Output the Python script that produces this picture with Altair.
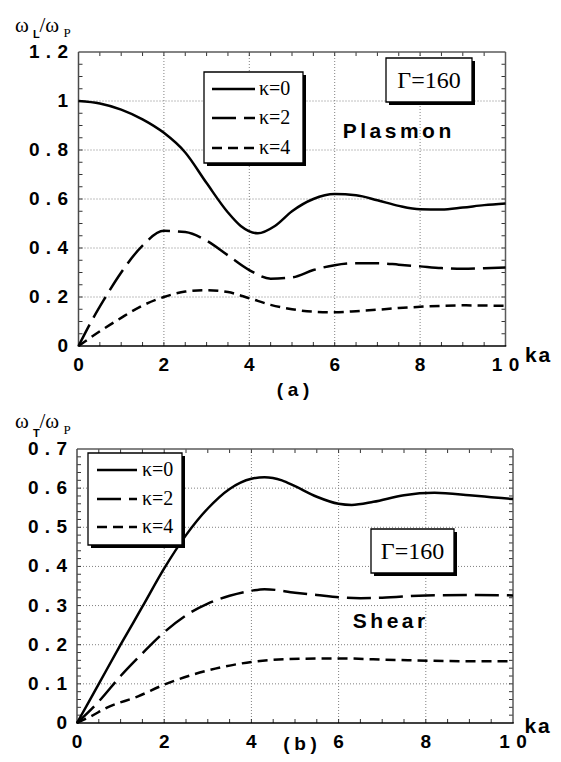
import altair as alt
import pandas as pd

# ---------------- data ----------------
# (a) Plasmon  omega_L / omega_P  vs ka
ka_a0 = [0, 0.5, 1, 1.5, 2, 2.5, 3, 3.5, 3.8, 4.2, 4.6, 5, 5.5, 6, 6.5, 7, 7.5, 8, 8.5, 9, 9.5, 10]
w_a0 = [1.0, 0.99, 0.965, 0.925, 0.87, 0.79, 0.665, 0.545, 0.49, 0.46, 0.49, 0.55, 0.60, 0.62, 0.615, 0.595, 0.572, 0.558, 0.557, 0.565, 0.575, 0.582]
ka_a2 = [0, 0.3, 0.6, 1, 1.5, 2, 2.5, 3, 3.5, 4, 4.5, 5, 5.5, 6, 6.5, 7, 7.5, 8, 8.5, 9, 9.5, 10]
w_a2 = [0, 0.10, 0.19, 0.30, 0.41, 0.47, 0.465, 0.43, 0.37, 0.31, 0.275, 0.28, 0.31, 0.33, 0.338, 0.338, 0.332, 0.325, 0.318, 0.315, 0.317, 0.32]
ka_a4 = [0, 0.5, 1, 1.5, 2, 2.5, 3, 3.5, 4, 4.5, 5, 5.5, 6, 6.5, 7, 7.5, 8, 8.5, 9, 9.5, 10]
w_a4 = [0, 0.06, 0.115, 0.165, 0.20, 0.222, 0.228, 0.22, 0.195, 0.168, 0.15, 0.14, 0.138, 0.142, 0.148, 0.155, 0.16, 0.164, 0.166, 0.165, 0.164]

# (b) Shear  omega_T / omega_P  vs ka
ka_b0 = [0, 0.5, 1, 1.5, 2, 2.5, 3, 3.5, 4, 4.3, 4.7, 5, 5.5, 6, 6.3, 6.8, 7.5, 8.2, 9, 9.5, 10]
w_b0 = [0, 0.10, 0.20, 0.297, 0.395, 0.48, 0.548, 0.598, 0.624, 0.628, 0.62, 0.605, 0.578, 0.56, 0.557, 0.565, 0.582, 0.588, 0.582, 0.577, 0.572]
ka_b2 = [0, 0.5, 1, 1.5, 2, 2.5, 3, 3.5, 4, 4.3, 5, 5.5, 6, 6.5, 7, 8, 9, 10]
w_b2 = [0, 0.055, 0.12, 0.178, 0.232, 0.275, 0.305, 0.325, 0.338, 0.342, 0.333, 0.327, 0.321, 0.319, 0.32, 0.326, 0.327, 0.326]
ka_b4 = [0, 0.3, 0.7, 1.4, 2, 2.7, 3.3, 4, 4.8, 6, 7.3, 8.9, 10]
w_b4 = [0, 0.016, 0.04, 0.068, 0.098, 0.125, 0.142, 0.156, 0.163, 0.165, 0.161, 0.158, 0.158]

series_labels = ["κ=0", "κ=2", "κ=4"]

# axis ticks and tick labels
x_major = [0, 2, 4, 6, 8, 10]
x_labels = ["0", "2", "4", "6", "8", "10"]
x_minor = [0.5, 1, 1.5, 2, 2.5, 3, 3.5, 4, 4.5, 5, 5.5, 6, 6.5, 7, 7.5, 8, 8.5, 9, 9.5]
ya_major = [0, 0.2, 0.4, 0.6, 0.8, 1.0, 1.2]
ya_labels = ["0", "0.2", "0.4", "0.6", "0.8", "1", "1.2"]
ya_minor = [0.05, 0.1, 0.15, 0.2, 0.25, 0.3, 0.35, 0.4, 0.45, 0.5, 0.55, 0.6, 0.65, 0.7,
            0.75, 0.8, 0.85, 0.9, 0.95, 1.0, 1.05, 1.1, 1.15]
yb_major = [0, 0.1, 0.2, 0.3, 0.4, 0.5, 0.6, 0.7]
yb_labels = ["0", "0.1", "0.2", "0.3", "0.4", "0.5", "0.6", "0.7"]
yb_minor = [0.02, 0.04, 0.06, 0.08, 0.1, 0.12, 0.14, 0.16, 0.18, 0.2, 0.22, 0.24, 0.26, 0.28,
            0.3, 0.32, 0.34, 0.36, 0.38, 0.4, 0.42, 0.44, 0.46, 0.48, 0.5, 0.52, 0.54, 0.56,
            0.58, 0.6, 0.62, 0.64, 0.66, 0.68]

SANS = "Liberation Sans"
SERIF = "Liberation Serif"
DASHES = [None, [24, 8], [10, 6]]
SP = "\u2004"
NB = "\u00a0"


def spaced(s, sep="\u2006"):
    return sep.join(list(s))


def ylab(s):
    return s + NB + "\u2006" if "." not in s else spaced(s, SP)


def txt(s, x, y, size, font, weight="normal", align="left", baseline="alphabetic"):
    return alt.Chart(pd.DataFrame({"t": [s]})).mark_text(
        align=align, baseline=baseline, font=font, fontSize=size,
        fontWeight=weight, color="black"
    ).encode(x=alt.value(x), y=alt.value(y), text="t:N")


def hrule(x1, x2, y, color, width):
    return alt.Chart(pd.DataFrame({"t": [0]})).mark_rule(color=color, strokeWidth=width).encode(
        x=alt.value(x1), x2=alt.value(x2), y=alt.value(y))


def vrule(x, y1, y2, color, width):
    return alt.Chart(pd.DataFrame({"t": [0]})).mark_rule(color=color, strokeWidth=width).encode(
        x=alt.value(x), y=alt.value(y1), y2=alt.value(y2))


def box(x1, y1, x2, y2, shadow=3):
    d = pd.DataFrame({"t": [0]})
    sh = alt.Chart(d).mark_rect(color="black").encode(
        x=alt.value(x1 + shadow), x2=alt.value(x2 + shadow),
        y=alt.value(y1 + shadow), y2=alt.value(y2 + shadow))
    fg = alt.Chart(d).mark_rect(fill="white", stroke="black", strokeWidth=1.3).encode(
        x=alt.value(x1), x2=alt.value(x2), y=alt.value(y1), y2=alt.value(y2))
    return [sh, fg]


def panel(xr, yr, ymax, y_major, y_labels, y_minor, xs, ys, sub, title_y, legend, gamma,
          name, name_pos, ka_pos, plabel, plabel_pos, xlab_y, ylab_x):
    L, R = xr
    B, T = yr
    X = alt.X("ka:Q", axis=None, scale=alt.Scale(domain=[0, 10], range=[L, R], nice=False, zero=False))
    Y = alt.Y("w:Q", axis=None, scale=alt.Scale(domain=[0, ymax], range=[B, T], nice=False, zero=False))
    layers = []

    # dotted grid at the major ticks
    gx = pd.DataFrame({"ka": x_major[1:-1]})
    gy = pd.DataFrame({"w": y_major[1:-1]})
    gkw = dict(color="#808080", strokeWidth=1, strokeDash=[1, 2])
    layers.append(alt.Chart(gx).mark_rule(**gkw).encode(x=X, y=alt.value(T), y2=alt.value(B)))
    layers.append(alt.Chart(gy).mark_rule(**gkw).encode(y=Y, x=alt.value(L), x2=alt.value(R)))

    # inward ticks on all four sides
    dx = pd.DataFrame({"ka": x_minor})
    dy = pd.DataFrame({"w": y_minor})
    tk = dict(color="#333", strokeWidth=1)
    layers.append(alt.Chart(dx).mark_rule(**tk).encode(x=X, y=alt.value(B), y2=alt.value(B - 4)))
    layers.append(alt.Chart(dx).mark_rule(**tk).encode(x=X, y=alt.value(T), y2=alt.value(T + 4)))
    layers.append(alt.Chart(dy).mark_rule(**tk).encode(y=Y, x=alt.value(L), x2=alt.value(L + 4)))
    layers.append(alt.Chart(dy).mark_rule(**tk).encode(y=Y, x=alt.value(R), x2=alt.value(R - 4)))

    # frame
    layers.append(hrule(L, R, T, "#5a5a5a", 1.5))
    layers.append(vrule(R, T, B, "#5a5a5a", 1.5))
    layers.append(vrule(L, T, B, "#4a4a4a", 1.5))
    layers.append(hrule(L - 0.75, R + 0.75, B, "black", 1.5))

    # tick labels
    xl = pd.DataFrame({"ka": x_major, "lab": [spaced(s, SP) for s in x_labels]})
    layers.append(alt.Chart(xl).mark_text(
        align="center", baseline="top", font=SANS, fontSize=19, fontWeight="bold", color="black"
    ).encode(x=X, y=alt.value(xlab_y), text="lab:N"))
    yl = pd.DataFrame({"w": y_major, "lab": [ylab(s) for s in y_labels]})
    layers.append(alt.Chart(yl).mark_text(
        align="right", baseline="middle", font=SANS, fontSize=19, fontWeight="bold", color="black"
    ).encode(y=Y, x=alt.value(ylab_x), text="lab:N"))

    # curves
    for k, (kx, wy) in enumerate(zip(xs, ys)):
        kw = dict(color="black", strokeWidth=2.5, interpolate="monotone")
        if DASHES[k] is not None:
            kw["strokeDash"] = DASHES[k]
        df = pd.DataFrame({"ka": kx, "w": wy})
        layers.append(alt.Chart(df).mark_line(**kw).encode(x=X, y=Y))

    # legend box
    lx1, ly1, lx2, ly2, sx1, sx2, tx, rows = legend
    layers += box(lx1, ly1, lx2, ly2)
    for k, lab in enumerate(series_labels):
        kw = dict(color="black", strokeWidth=2.5)
        if DASHES[k] is not None:
            kw["strokeDash"] = DASHES[k]
        layers.append(alt.Chart(pd.DataFrame({"t": [0]})).mark_rule(**kw).encode(
            x=alt.value(sx1), x2=alt.value(sx2), y=alt.value(rows[k])))
        layers.append(txt(lab, tx, rows[k], 20, SERIF, baseline="middle"))

    # Gamma box
    gx1, gy1, gx2, gy2 = gamma
    layers += box(gx1, gy1, gx2, gy2)
    layers.append(txt("Γ=160", (gx1 + gx2) / 2, (gy1 + gy2) / 2 + 1, 24, SERIF,
                      align="center", baseline="middle"))

    # Plasmon / Shear
    layers.append(txt(spaced(name), name_pos[0], name_pos[1], 21, SANS, "bold",
                      align="center", baseline="middle"))

    # y title  omega_X / omega_P
    wb, sb, pb = title_y
    layers.append(txt("ω", -63.5, wb, 21, SERIF))
    layers.append(txt(sub, -45.5, sb, 11, SANS, "bold"))
    layers.append(txt("/ω", -39, wb, 21, SERIF))
    layers.append(txt("P", -15, pb, 13, SERIF))

    # x title "ka" and panel label
    layers.append(txt(spaced("ka", "\u200a"), ka_pos[0], ka_pos[1], 21, SANS, "bold"))
    layers.append(txt(spaced("(" + plabel + ")", "\u2005"), plabel_pos[0], plabel_pos[1],
                      19, SANS, "bold", align="center"))

    return alt.layer(*layers)


# local coordinates: origin at the top-left corner of panel (a)
top = panel(
    (0, 427), (294, 0), 1.2, ya_major, ya_labels, ya_minor,
    [ka_a0, ka_a2, ka_a4], [w_a0, w_a2, w_a4], "L", (-20, -14, -15),
    (125.5, 20, 224.5, 111, 133.5, 176.5, 180.5, [37, 66, 96]),
    (307.5, 6, 393.5, 50),
    "Plasmon", (318.5, 80), (446.5, 310), "a", (214.5, 344), 304, -10.5)

bottom = panel(
    (-1.5, 434.5), (671, 397), 0.7, yb_major, yb_labels, yb_minor,
    [ka_b0, ka_b2, ka_b4], [w_b0, w_b2, w_b4], "T", (376, 385, 382),
    (9.5, 401, 103.5, 493, 18.5, 58.5, 63.5, [418, 447, 475]),
    (292.5, 477, 375.5, 521),
    "Shear", (310.5, 570), (446, 681), "b", (221.5, 697.5), 681, -11.5)

chart = alt.layer(top, bottom).resolve_scale(x="independent", y="independent").properties(
    width=474.5, height=702,
    autosize=alt.AutoSizeParams(type="none"),
    padding={"left": 70.5, "top": 44, "right": 0, "bottom": 0}
).configure_view(strokeWidth=0)

chart.save("out.html", embed_options={"renderer": "svg", "actions": False})
